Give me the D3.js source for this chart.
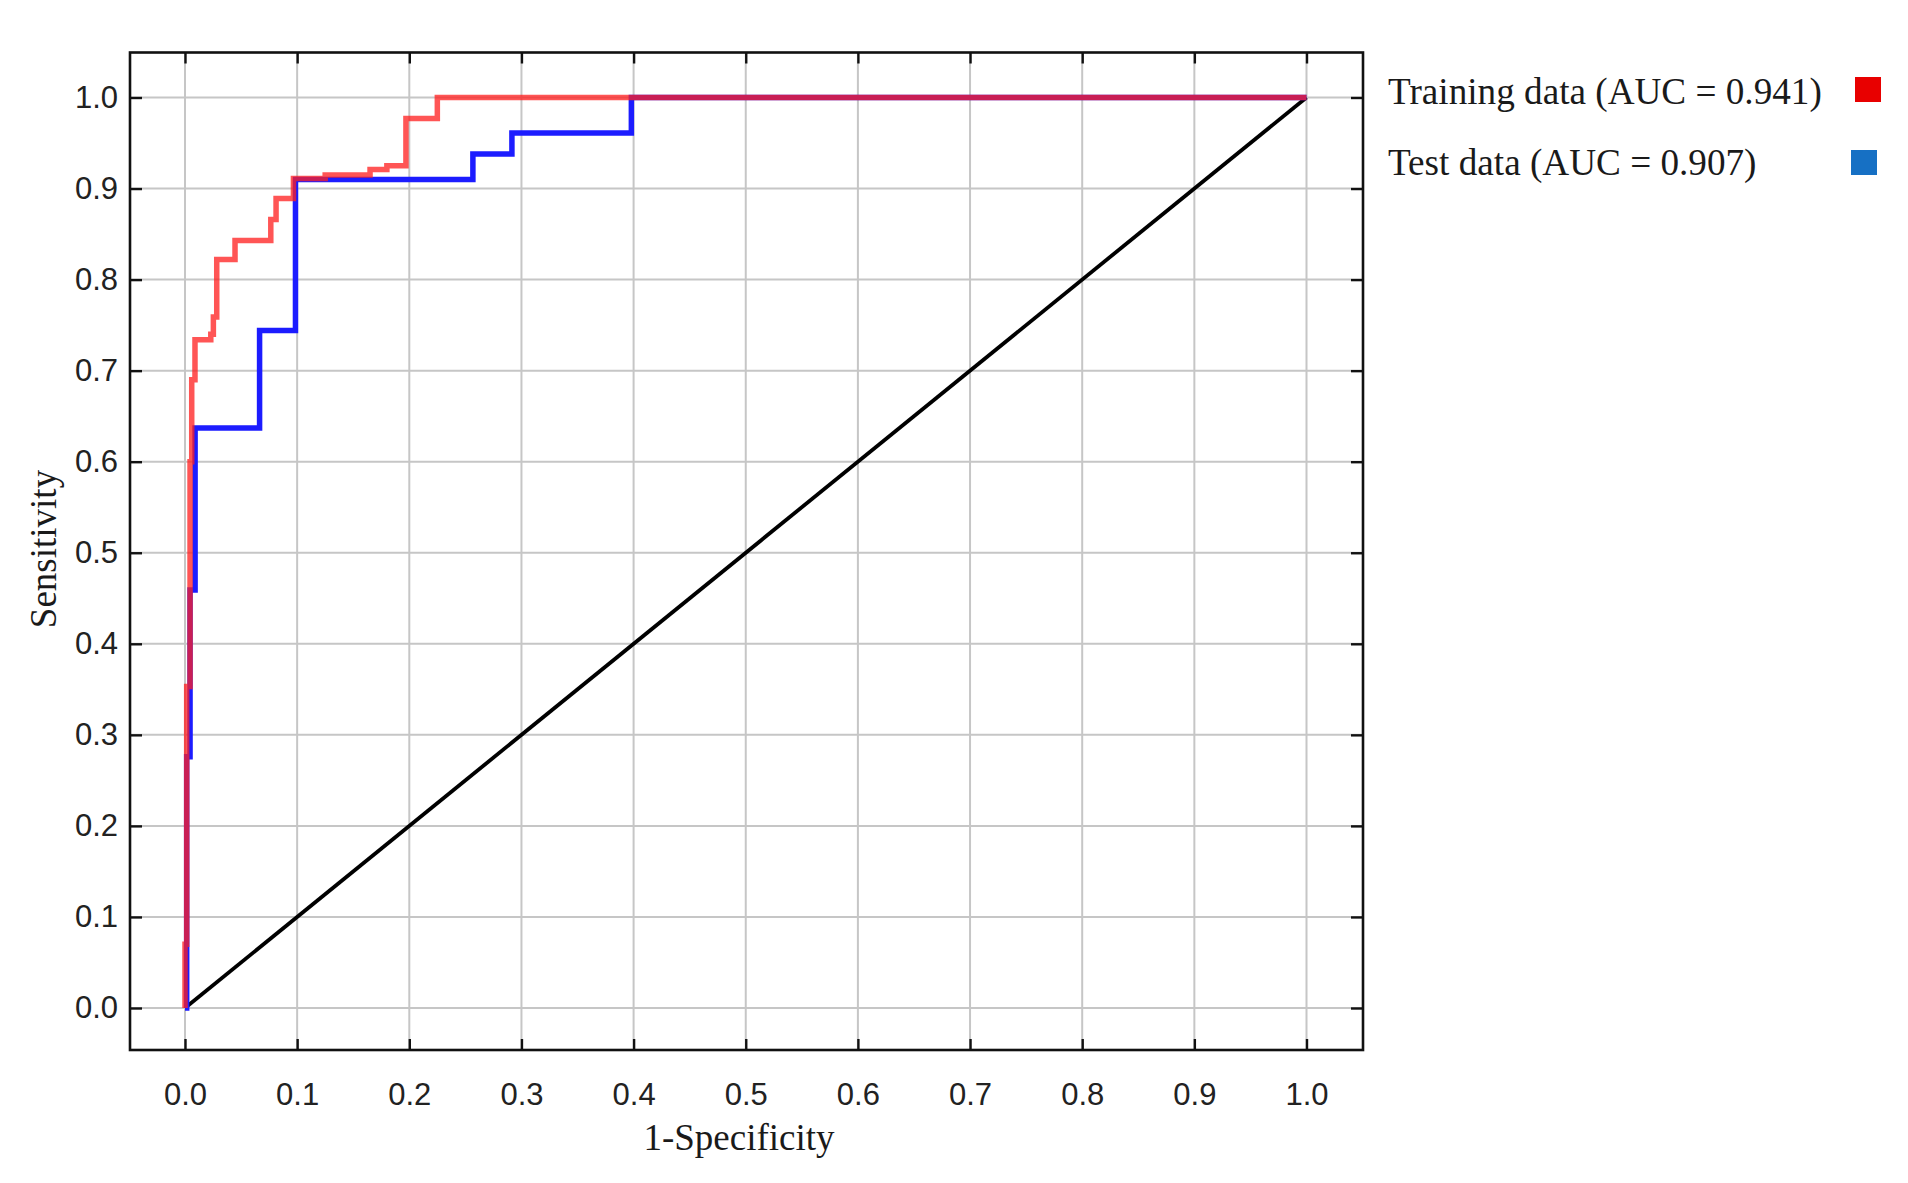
<!DOCTYPE html>
<html>
<head>
<meta charset="utf-8">
<script src="https://cdn.jsdelivr.net/npm/d3@7"></script>
<style>
  html, body { margin: 0; padding: 0; background: #ffffff; }
  svg { display: block; }
</style>
</head>
<body>
<svg id="chart" width="1908" height="1183"></svg>
<script>
// ---------------- data ----------------
const xTickValues = [0, 0.1, 0.2, 0.3, 0.4, 0.5, 0.6, 0.7, 0.8, 0.9, 1.0];
const yTickValues = [0, 0.1, 0.2, 0.3, 0.4, 0.5, 0.6, 0.7, 0.8, 0.9, 1.0];
const xTickLabels = ["0.0","0.1","0.2","0.3","0.4","0.5","0.6","0.7","0.8","0.9","1.0"];
const yTickLabels = ["0.0","0.1","0.2","0.3","0.4","0.5","0.6","0.7","0.8","0.9","1.0"];

const seriesNames = ["Training data (AUC = 0.941)", "Test data (AUC = 0.907)"];

// Training ROC (1-specificity, sensitivity) step vertices
const trainFPR = [0, 0, 0.0015, 0.0015, 0.0045, 0.0045, 0.006, 0.006, 0.0089, 0.0089,
  0.023, 0.023, 0.0253, 0.0253, 0.0283, 0.0283, 0.0446, 0.0446, 0.0765, 0.0765,
  0.0812, 0.0812, 0.0967, 0.0967, 0.125, 0.125, 0.165, 0.165, 0.18, 0.18,
  0.197, 0.197, 0.225, 0.225, 1.0];
const trainTPR = [0, 0.07, 0.07, 0.353, 0.353, 0.60, 0.60, 0.69, 0.69, 0.734,
  0.734, 0.740, 0.740, 0.759, 0.759, 0.822, 0.822, 0.843, 0.843, 0.866,
  0.866, 0.889, 0.889, 0.911, 0.911, 0.915, 0.915, 0.921, 0.921, 0.925,
  0.925, 0.977, 0.977, 1.0, 1.0];

// Test ROC step vertices
const testFPR = [0, 0.0015, 0.0015, 0.0045, 0.0045, 0.009, 0.009, 0.0665, 0.0665, 0.0985,
  0.0985, 0.2567, 0.2567, 0.2915, 0.2915, 0.398, 0.398, 1.0];
const testTPR = [0, 0, 0.276, 0.276, 0.459, 0.459, 0.637, 0.637, 0.744, 0.744,
  0.910, 0.910, 0.938, 0.938, 0.961, 0.961, 1.0, 1.0];

// reference diagonal
const diagX = [0, 1];
const diagY = [0, 1];

// ---------------- layout ----------------
const svg = d3.select("#chart");
const frame = { left: 130, right: 1363, top: 52.5, bottom: 1050 };

const x = d3.scaleLinear().domain([0, 1]).range([185, 1306.5]);
const y = d3.scaleLinear().domain([0, 1]).range([1008, 97.5]);

const fmt = (labels, values) => d => labels[values.indexOf(d)];

// grid lines
const grid = svg.append("g").attr("class", "grid");
grid.selectAll("line.vx").data(xTickValues).join("line")
  .attr("x1", d => x(d)).attr("x2", d => x(d))
  .attr("y1", frame.top).attr("y2", frame.bottom)
  .attr("stroke", "#c6c6c6").attr("stroke-width", 2);
grid.selectAll("line.hy").data(yTickValues).join("line")
  .attr("x1", frame.left).attr("x2", frame.right)
  .attr("y1", d => y(d)).attr("y2", d => y(d))
  .attr("stroke", "#c6c6c6").attr("stroke-width", 2);

// curves
const line = d3.line().x(d => x(d[0])).y(d => y(d[1]));
const diag = diagX.map((v, i) => [v, diagY[i]]);
const train = trainFPR.map((v, i) => [v, trainTPR[i]]);
const test = testFPR.map((v, i) => [v, testTPR[i]]);

svg.append("path").datum(diag).attr("d", line)
  .attr("fill", "none").attr("stroke", "#000").attr("stroke-width", 3.8);
svg.append("path").datum(test).attr("d", line)
  .attr("fill", "none").attr("stroke", "#1c1cff").attr("stroke-width", 5.5)
  .attr("stroke-linejoin", "miter");
svg.append("path").datum(train).attr("d", line)
  .attr("fill", "none").attr("stroke", "#ff1f1f").attr("stroke-opacity", 0.76)
  .attr("stroke-width", 5.5).attr("stroke-linejoin", "miter");

// axes (ticks on all four sides)
const tickFont = "'Liberation Sans', Arial, sans-serif";
const gB = svg.append("g").attr("transform", `translate(0,${frame.bottom})`)
  .call(d3.axisBottom(x).tickValues(xTickValues).tickFormat(fmt(xTickLabels, xTickValues))
    .tickSizeInner(-11).tickSizeOuter(0).tickPadding(33));
const gT = svg.append("g").attr("transform", `translate(0,${frame.top})`)
  .call(d3.axisTop(x).tickValues(xTickValues).tickFormat("")
    .tickSizeInner(-11).tickSizeOuter(0));
const gL = svg.append("g").attr("transform", `translate(${frame.left},0)`)
  .call(d3.axisLeft(y).tickValues(yTickValues).tickFormat(fmt(yTickLabels, yTickValues))
    .tickSizeInner(-12).tickSizeOuter(0).tickPadding(12));
const gR = svg.append("g").attr("transform", `translate(${frame.right},0)`)
  .call(d3.axisRight(y).tickValues(yTickValues).tickFormat("")
    .tickSizeInner(-12).tickSizeOuter(0));

[gB, gT, gL, gR].forEach(g => {
  g.select(".domain").remove();
  g.selectAll(".tick line").attr("stroke", "#111").attr("stroke-width", 2.4);
  g.selectAll(".tick text").attr("fill", "#222")
    .style("font-family", tickFont).style("font-size", "31px");
});

// frame
svg.append("rect")
  .attr("x", frame.left).attr("y", frame.top)
  .attr("width", frame.right - frame.left).attr("height", frame.bottom - frame.top)
  .attr("fill", "none").attr("stroke", "#111").attr("stroke-width", 2.6);

// axis titles
const serif = "'Liberation Serif', 'Times New Roman', serif";
svg.append("text").text("1-Specificity")
  .attr("x", 739).attr("y", 1150).attr("text-anchor", "middle")
  .attr("fill", "#1a1a1a").style("font-family", serif).style("font-size", "37px");
svg.append("text").text("Sensitivity")
  .attr("transform", "translate(56,549) rotate(-90)").attr("text-anchor", "middle")
  .attr("fill", "#1a1a1a").style("font-family", serif).style("font-size", "37px");

// legend
const legendColors = ["#e80000", "#1670c4"];
const legend = svg.append("g");
const legendRows = legend.selectAll("g").data(seriesNames).join("g")
  .attr("transform", (d, i) => `translate(0,${i * 71})`);
legendRows.append("text").text(d => d)
  .attr("x", 1388).attr("y", 104)
  .attr("fill", "#1a1a1a").style("font-family", serif).style("font-size", "37.2px");
legendRows.append("rect")
  .attr("x", (d, i) => i === 0 ? 1855 : 1851).attr("y", (d, i) => i === 0 ? 77 : 79)
  .attr("width", 26).attr("height", 25)
  .attr("fill", (d, i) => legendColors[i]);
</script>
</body>
</html>
